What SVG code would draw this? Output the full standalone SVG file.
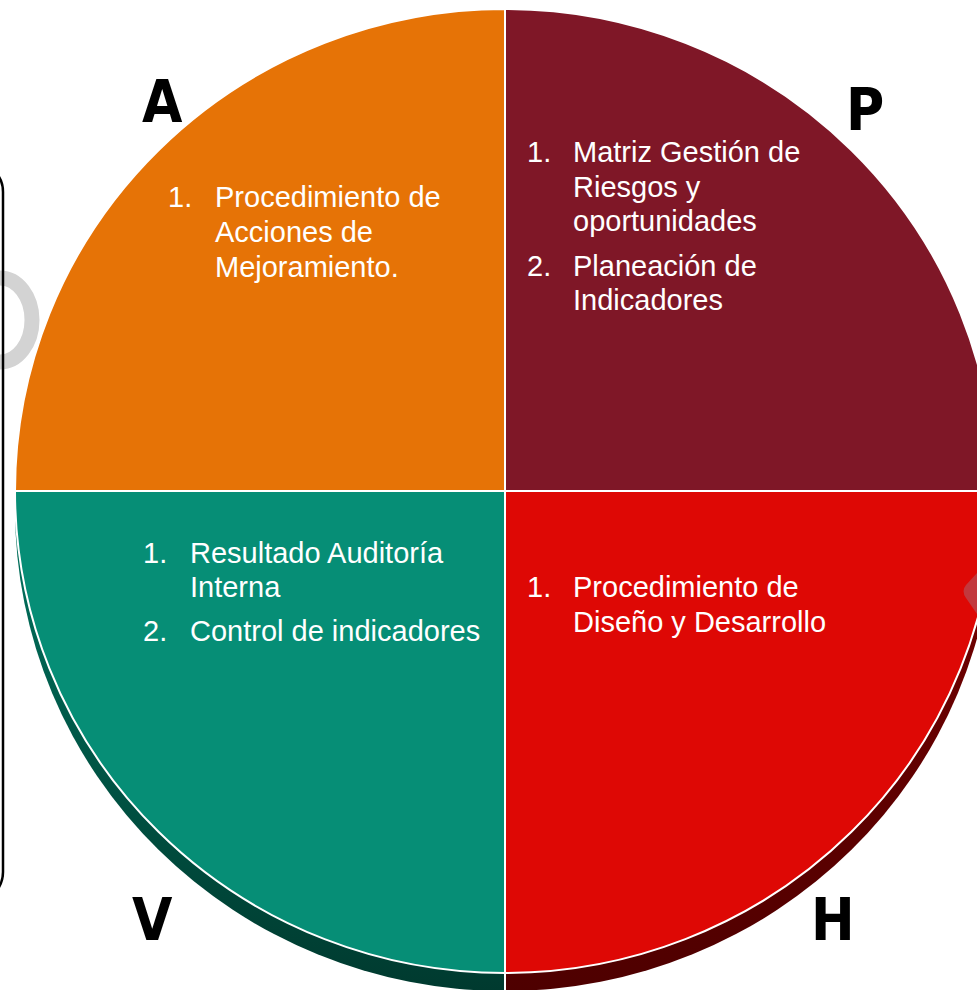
<svg xmlns="http://www.w3.org/2000/svg" width="977" height="990" viewBox="0 0 977 990">
<style>
.t{font-family:"Liberation Sans",Arial,sans-serif;font-size:29px;fill:#ffffff}
.big{font-family:"DejaVu Sans Condensed","DejaVu Sans",sans-serif;font-stretch:condensed;font-weight:bold;font-size:58px;fill:#000000}
.q{stroke:#ffffff;stroke-width:2;stroke-linejoin:round}
</style>
<defs>
<linearGradient id="gTeal" x1="0" y1="500" x2="0" y2="990" gradientUnits="userSpaceOnUse">
<stop offset="0" stop-color="#007560"/>
<stop offset="1" stop-color="#003A2F"/>
</linearGradient>
<linearGradient id="gRed" x1="0" y1="500" x2="0" y2="990" gradientUnits="userSpaceOnUse">
<stop offset="0" stop-color="#7A0000"/>
<stop offset="1" stop-color="#4E0000"/>
</linearGradient>
</defs>
<rect width="977" height="990" fill="#ffffff"/>
<!-- decorations -->
<ellipse cx="0" cy="320" rx="32" ry="42" fill="none" stroke="#D3D3D3" stroke-width="15"/>
<rect x="-400" y="162" width="403" height="740" rx="30" ry="30" fill="none" stroke="#000000" stroke-width="2.5"/>
<!-- extrusion -->
<g id="extrusion">
<path d="M15,491 L15,509 A490,482 0 0 0 505,991 L505,491 Z" fill="url(#gTeal)"/>
<path d="M505,491 L505,991 A490,482 0 0 0 995,509 L995,491 Z" fill="url(#gRed)"/>
<line x1="505" y1="960" x2="505" y2="990" stroke="#ffffff" stroke-width="2"/>
</g>
<g id="connectors"></g>
<g id="node-A">
<path class="q" d="M505,491 L15,491 A490,482 0 0 1 505,9 Z" fill="#E67306"/>
<text class="t" x="168" y="207">1.</text>
<text class="t" x="215" y="207">Procedimiento de</text>
<text class="t" x="215" y="242">Acciones de</text>
<text class="t" x="215" y="277">Mejoramiento.</text>
</g>
<g id="node-P">
<path class="q" d="M505,491 L505,9 A490,482 0 0 1 995,491 Z" fill="#7F1727"/>
<text class="t" x="527" y="162">1.</text>
<text class="t" x="573" y="162">Matriz Gestión de</text>
<text class="t" x="573" y="197">Riesgos y</text>
<text class="t" x="573" y="231">oportunidades</text>
<text class="t" x="527" y="276">2.</text>
<text class="t" x="573" y="276">Planeación de</text>
<text class="t" x="573" y="310">Indicadores</text>
</g>
<g id="node-H">
<path class="q" d="M505,491 L995,491 A490,482 0 0 1 505,973 Z" fill="#DE0805"/>
<text class="t" x="527" y="597">1.</text>
<text class="t" x="573" y="597">Procedimiento de</text>
<text class="t" x="573" y="632">Diseño y Desarrollo</text>
</g>
<g id="node-V">
<path class="q" d="M505,491 L505,973 A490,482 0 0 1 15,491 Z" fill="#068E76"/>
<text class="t" x="143" y="563">1.</text>
<text class="t" x="190" y="563">Resultado Auditoría</text>
<text class="t" x="190" y="597">Interna</text>
<text class="t" x="143" y="641">2.</text>
<text class="t" x="190" y="641">Control de indicadores</text>
</g>
<path d="M977,573 L966,585 Q961,591 966,598 L977,614 Z" fill="#C2383D"/>
<g id="labels">
<text class="big" x="142" y="122">A</text>
<text class="big" x="846" y="130">P</text>
<text class="big" x="132" y="940">V</text>
<text class="big" x="811" y="940">H</text>
</g>
</svg>
